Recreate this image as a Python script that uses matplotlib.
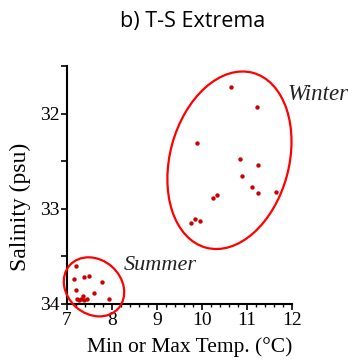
import numpy as np
import matplotlib
matplotlib.use("Agg")
import matplotlib.pyplot as plt
from matplotlib.patches import Ellipse
from matplotlib.transforms import ScaledTranslation
from matplotlib.ticker import MultipleLocator, FixedLocator, FuncFormatter

# T-S extrema: winter (max temp) and summer (min temp)
winter_T = [10.64, 11.23, 9.90, 10.84, 11.25, 10.90, 11.12, 11.24, 11.64, 10.33, 10.24, 9.84, 9.75, 9.96]
winter_S = [31.72, 31.93, 32.31, 32.48, 32.54, 32.66, 32.77, 32.83, 32.82, 32.86, 32.89, 33.11, 33.15, 33.13]
summer_T = [7.21, 7.16, 7.37, 7.48, 7.78, 7.21, 7.61, 7.93, 7.23, 7.31, 7.36, 7.38, 7.45, 7.27]
summer_S = [33.60, 33.74, 33.72, 33.71, 33.77, 33.85, 33.88, 33.95, 33.95, 33.95, 33.92, 33.96, 33.95, 33.96]

# ellipses: centre (T, S), diameters in inches, angle in degrees
winter_ell = dict(T=10.61, S=32.49, w=1.81, h=1.19, angle=75)
summer_ell = dict(T=7.60, S=33.82, w=0.65, h=0.54, angle=-41.5)

serif = ['Liberation Serif', 'DejaVu Serif']
plt.rcParams['font.family'] = serif

fig = plt.figure(figsize=(3.55, 3.62), dpi=100)
ax = fig.add_axes([67/355, 1-304/362, 225/355, 238/362])

pt_col = '#cc0000'
ax.scatter(winter_T, winter_S, s=10, color=pt_col, zorder=3, clip_on=False, linewidths=0)
ax.scatter(summer_T, summer_S, s=10, color=pt_col, zorder=3, clip_on=False, linewidths=0)

for e in (winter_ell, summer_ell):
    tr = fig.dpi_scale_trans + ScaledTranslation(e['T'], e['S'], ax.transData)
    ax.add_patch(Ellipse((0, 0), e['w'], e['h'], angle=e['angle'], transform=tr,
                         fill=False, edgecolor='#ff0000', lw=1.6, clip_on=False, zorder=4))

ax.set_xlim(7, 12)
ax.set_ylim(34, 31.5)

ax.spines['top'].set_visible(False)
ax.spines['right'].set_visible(False)
ax.spines['left'].set_linewidth(1.5)
ax.spines['bottom'].set_linewidth(1.5)

ax.xaxis.set_major_locator(MultipleLocator(1))
ax.xaxis.set_minor_locator(MultipleLocator(0.2))
ax.yaxis.set_major_locator(FixedLocator([31.5, 32, 32.5, 33, 33.5, 34]))
ax.yaxis.set_major_formatter(FuncFormatter(lambda v, p: '%d' % v if v == int(v) else ''))
ax.tick_params(which='major', length=4, width=1.2, labelsize=14, pad=1.5)
ax.tick_params(which='minor', length=2.5, width=1.0)

ax.text(11.91, 31.8, 'Winter', fontsize=16.5, style='italic', ha='left', va='center', color='#222222')
ax.text(8.27, 33.6, 'Summer', fontsize=16, style='italic', ha='left', va='center', color='#222222')

ax.set_xlabel('Min or Max Temp. (°C)', fontsize=15.5)
ax.xaxis.label.set_va('center')
ax.xaxis.set_label_coords((190-67)/225, (304-347)/238)
ax.set_ylabel('Salinity (psu)', fontsize=17)
ax.yaxis.label.set_va('center')
ax.yaxis.set_label_coords((20-67)/225, (304-207)/238)

fig.text(193/355, 1-22/362, 'b) T-S Extrema', fontsize=15.5, ha='center', va='center',
         family=['Open Sans', 'DejaVu Sans'])

fig.savefig('out.png', dpi=100)
